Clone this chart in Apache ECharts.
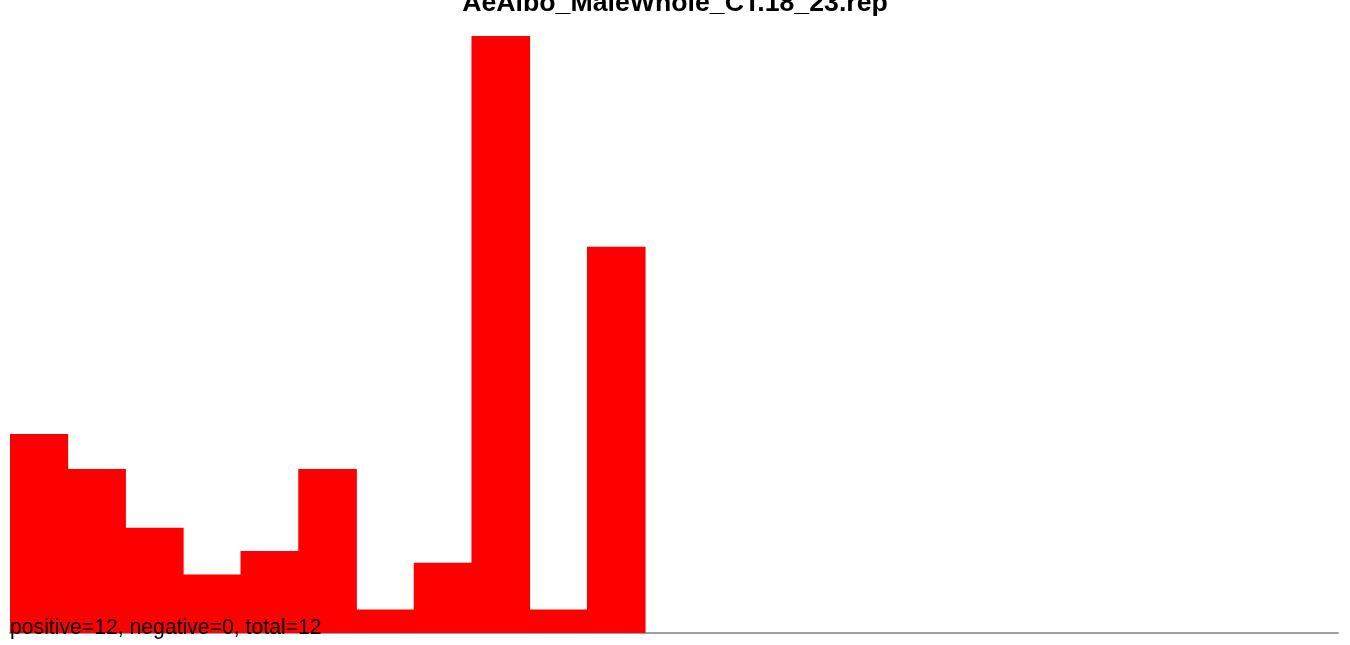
<!DOCTYPE html>
<html>
<head>
<meta charset="utf-8">
<script src="https://cdn.jsdelivr.net/npm/echarts@6/dist/echarts.min.js"></script>
<style>
html,body{margin:0;padding:0;background:#fff;}
#chart{width:1350px;height:645px;}
</style>
</head>
<body>
<div id="chart"></div>
<script>
const titleText = "AeAlbo_MaleWhole_CT.18_23.rep";
const footText = "positive=12, negative=0, total=12";
const categories = ["1","2","3","4","5","6","7","8","9","10","11","12","13","14","15","16","17","18","19","20","21","22","23"];
const values = [17, 14, 9, 5, 7, 14, 2, 6, 51, 2, 33, null, null, null, null, null, null, null, null, null, null, null, null];

const chart = echarts.init(document.getElementById('chart'), null, {renderer: 'canvas'});
chart.setOption({
  animation: false,
  backgroundColor: '#ffffff',
  grid: {left: 10, right: 12, top: 36, bottom: 12, containLabel: false},
  xAxis: {
    type: 'category',
    data: categories,
    axisLine: {show: true, lineStyle: {color: '#a0a0a0', width: 2}},
    axisTick: {show: false},
    axisLabel: {show: false},
    splitLine: {show: false}
  },
  yAxis: {
    type: 'value',
    min: 0,
    max: 51,
    show: false,
    splitLine: {show: false}
  },
  series: [{
    type: 'bar',
    data: values,
    barWidth: '101.5%',
    itemStyle: {color: '#ff0000'},
    z: 1
  }],
  graphic: [
    {
      type: 'text',
      left: 'center',
      top: -10,
      z: 10,
      style: {
        text: titleText,
        font: 'bold 26.7px "Liberation Sans", Arial, sans-serif',
        fill: '#000'
      }
    },
    {
      type: 'text',
      left: 10,
      top: 618,
      z: 10,
      style: {
        text: footText,
        font: '21.2px "Liberation Sans", Arial, sans-serif',
        fill: '#000'
      }
    }
  ]
});
</script>
</body>
</html>
